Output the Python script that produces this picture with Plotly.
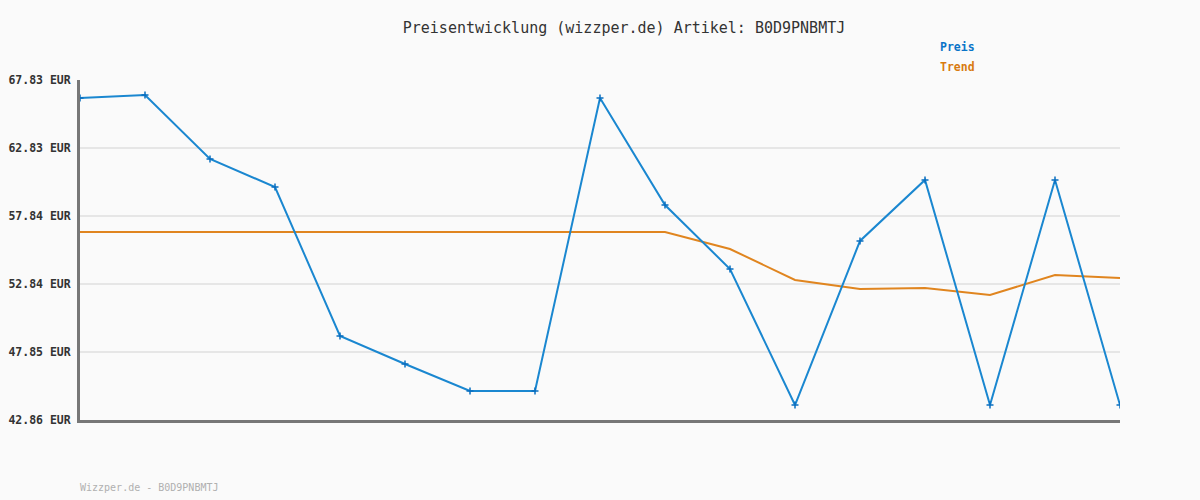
import plotly.graph_objects as go

x_idx = list(range(17))
preis = [66.51, 66.73, 62.03, 59.97, 49.03, 46.97, 44.99, 44.99, 66.51, 58.65,
         53.95, 43.96, 56.01, 60.49, 43.96, 60.49, 43.96]
trend = [56.67, 56.67, 56.67, 56.67, 56.67, 56.67, 56.67, 56.67, 56.67, 56.67,
         55.42, 53.14, 52.48, 52.55, 52.04, 53.51, 53.29]
tick_vals = [42.86, 47.85, 52.84, 57.84, 62.83, 67.83]
tick_text = [f"{v:.2f} EUR" for v in tick_vals]

FONT = "DejaVu Sans Mono"
BLUE = "#1a87d0"
ORANGE = "#e0851f"

fig = go.Figure()
fig.add_trace(go.Scatter(x=x_idx, y=trend, mode="lines", name="Trend",
                         line=dict(color=ORANGE, width=2), showlegend=False))
fig.add_trace(go.Scatter(x=x_idx, y=preis, mode="lines+markers", name="Preis",
                         line=dict(color=BLUE, width=2),
                         marker=dict(symbol="cross-thin", size=5,
                                     line=dict(color="#0a6fc0", width=1.5)),
                         showlegend=False))

fig.update_layout(
    width=1200, height=500,
    margin=dict(l=80, r=80, t=80, b=80, autoexpand=False),
    paper_bgcolor="#fafafa", plot_bgcolor="#fafafa",
    title=dict(text="Preisentwicklung (wizzper.de) Artikel: B0D9PNBMTJ",
               x=0.52, xanchor="center", y=0.944, yanchor="middle",
               font=dict(family=FONT, size=15, color="#333333")),
    xaxis=dict(range=[0, 16], showgrid=False, showticklabels=False, zeroline=False,
               showline=True, linecolor="#777777", linewidth=3, ticks="",
               automargin=False),
    yaxis=dict(range=[42.86, 67.83], tickvals=tick_vals, ticktext=tick_text,
               showgrid=True, gridcolor="#e6e6e6", gridwidth=2, zeroline=False,
               showline=True, linecolor="#777777", linewidth=3, ticks="",
               ticklabelstandoff=4, automargin=False,
               tickfont=dict(family=FONT, size=11.5, color="#333333", weight="bold")),
    annotations=[
        dict(text="Preis", x=938, y=47, xref="paper", yref="paper",
             showarrow=False, xanchor="left", yanchor="middle",
             font=dict(family=FONT, size=11.5, color="#0a74c8", weight="bold")),
        dict(text="Trend", x=938, y=67, xref="paper", yref="paper",
             showarrow=False, xanchor="left", yanchor="middle",
             font=dict(family=FONT, size=11.5, color="#d87a10", weight="bold")),
        dict(text="Wizzper.de - B0D9PNBMTJ", x=78, y=487, xref="paper", yref="paper",
             showarrow=False, xanchor="left", yanchor="middle",
             font=dict(family=FONT, size=10, color="#b0b0b0")),
    ],
)
# convert pixel positions to paper coords
for a in fig.layout.annotations:
    a.x = (a.x - 80) / 1040
    a.y = 1 - (a.y - 80) / 340

fig.write_html("out.html", config={"displayModeBar": False},
               post_script="document.body.style.margin='0';")
